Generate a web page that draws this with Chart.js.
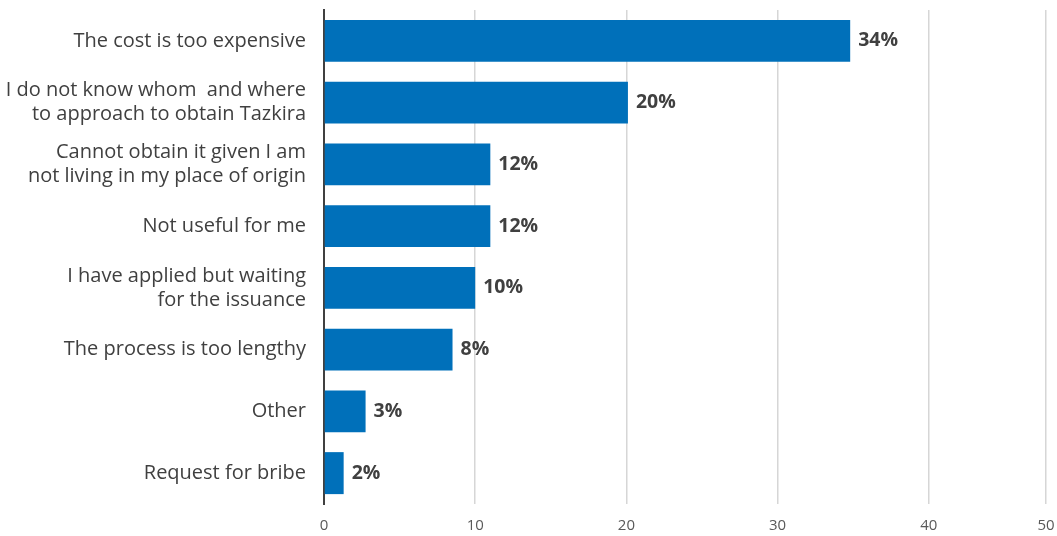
<!DOCTYPE html>
<html>
<head>
<meta charset="utf-8">
<script src="https://cdn.jsdelivr.net/npm/chart.js@4/dist/chart.umd.min.js"></script>
<style>
  body { margin: 0; background: #fff; }
</style>
</head>
<body>
<canvas id="reasons" width="1057" height="536"></canvas>
<script>
const categories = [
  "The cost is too expensive",
  ["I do not know whom  and where", "to approach to obtain Tazkira"],
  ["Cannot obtain it given I am", "not living in my place of origin"],
  "Not useful for me",
  ["I have applied but waiting", "for the issuance"],
  "The process is too lengthy",
  "Other",
  "Request for bribe"
];
// bar lengths
const barValues = [34.8, 20.1, 11.0, 11.0, 10.0, 8.5, 2.75, 1.3];
// printed value labels
const valueLabels = ["34%", "20%", "12%", "12%", "10%", "8%", "3%", "2%"];
const tickValues = [0, 10, 20, 30, 40, 47.75];
const tickLabels = ["0", "10", "20", "30", "40", "50"];

const font = "'Open Sans', Lato, sans-serif";

// draw the percent labels at the end of each bar
const valueLabelPlugin = {
  id: "valueLabels",
  afterDatasetsDraw(chart) {
    const ctx = chart.ctx;
    const meta = chart.getDatasetMeta(0);
    ctx.save();
    ctx.font = "bold 19.5px " + font;
    ctx.fillStyle = "#404040";
    ctx.textAlign = "left";
    ctx.textBaseline = "middle";
    meta.data.forEach((bar, i) => {
      ctx.fillText(valueLabels[i], bar.x + 8, bar.y);
    });
    ctx.restore();
  }
};

new Chart("reasons", {
  type: "bar",
  data: {
    labels: categories,
    datasets: [{
      data: barValues,
      backgroundColor: "#0070BA",
      barPercentage: 0.68,
      categoryPercentage: 1
    }]
  },
  options: {
    indexAxis: "y",
    responsive: false,
    animation: false,
    layout: { padding: { top: 10, right: 11, left: 0, bottom: 0 } },
    plugins: {
      legend: { display: false },
      tooltip: { enabled: false }
    },
    scales: {
      x: {
        min: 0,
        max: 47.75,
        afterBuildTicks: (scale) => {
          scale.ticks = tickValues.map(v => ({ value: v }));
        },
        afterFit: (scale) => {
          scale.height = 32;
          scale.paddingLeft = 0;
          scale.paddingRight = 0;
        },
        border: { display: false },
        grid: {
          color: (c) => c.index === 0 ? "rgba(0,0,0,0)" : "#d6d6d6",
          lineWidth: 1.5,
          drawTicks: false
        },
        ticks: {
          padding: 13,
          color: "#595959",
          font: { family: font, size: 15 },
          callback: (value, index) => tickLabels[index]
        }
      },
      y: {
        afterFit: (scale) => {
          scale.width = 324;
          scale.paddingTop = 0;
          scale.paddingBottom = 0;
        },
        border: { display: true, color: "#404040", width: 2 },
        grid: { display: false, drawTicks: false },
        ticks: {
          padding: 18,
          color: "#404040",
          font: { family: font, size: 20, lineHeight: 1.2 }
        }
      }
    }
  },
  plugins: [valueLabelPlugin]
});
</script>
</body>
</html>
